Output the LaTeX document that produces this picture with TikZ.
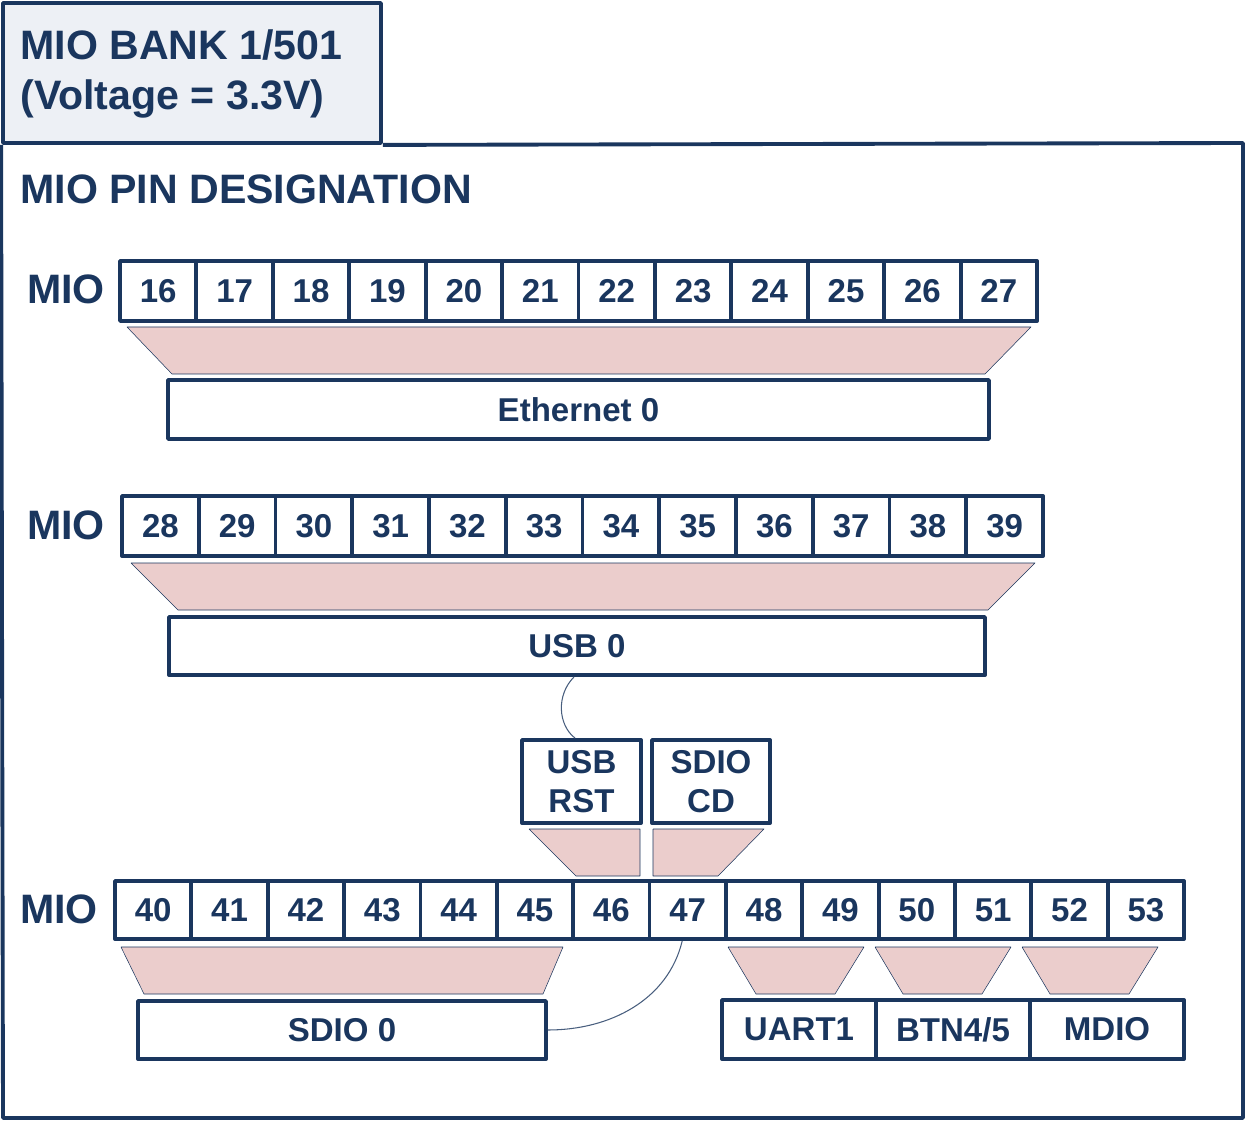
\documentclass[tikz,border=0pt]{standalone}
\usepackage{fontspec}
\setmainfont{Liberation Sans}
\definecolor{navy}{RGB}{26,54,94}
\definecolor{pale}{RGB}{237,240,245}
\definecolor{rose}{RGB}{235,205,204}
\tikzset{
  box/.style={draw=navy,line width=2.2pt,inner sep=0pt,text=navy,font=\fontsize{18.8}{22}\selectfont\bfseries,align=center},
  pin/.style={box,minimum width=#1,minimum height=1.2cm},
  funnel/.style={fill=rose,draw=navy,line width=.3pt},
  link/.style={draw=navy!80,line width=.6pt},
  big/.style={text=navy,inner sep=0pt,font=\fontsize{23.4}{28}\selectfont\bfseries}
}
\begin{document}
\begin{tikzpicture}[x=0.02cm,y=-0.02cm,line join=round]
\useasboundingbox (0,0) rectangle (1246,1121);
% frames
\node[box,fill=pale,minimum width=7.56cm,minimum height=2.8cm] (bank) at (192,73) {};
\draw[navy,line width=2.2pt] (bank.south east) -- (1243,143) -- (1243,1118) -- (3,1118) -- (bank.south west);
\node[big,anchor=west,align=left] (banktxt) at (20,74) {MIO BANK 1/501\\(Voltage = 3.3V)};
\node[big,anchor=west] (title) at (20,189) {MIO PIN DESIGNATION};
% pin rows
\node[big] (mioa) at (66,289) {MIO};
\node[big] (miob) at (66,525) {MIO};
\node[big] (mioc) at (59,909) {MIO};
\foreach \n in {16,...,27} \node[pin=1.528cm] (p\n) at ({120+76.42*(\n-15.5)},291) {\n};
\foreach \n in {28,...,39} \node[pin=1.535cm] (p\n) at ({122+76.75*(\n-27.5)},526) {\n};
\foreach \n in {40,...,53} \node[pin=1.527cm,minimum height=1.16cm] (p\n) at ({115+76.36*(\n-39.5)},910) {\n};
% funnels
\filldraw[funnel] (127,327) -- (1031,327) -- (985,374) -- (172,374) -- cycle;
\filldraw[funnel] (131,563) -- (1035,563) -- (988,610) -- (178,610) -- cycle;
\filldraw[funnel] (529,829) -- (640,829) -- (640,876) -- (576,876) -- cycle;
\filldraw[funnel] (653,829) -- (764,829) -- (718,876) -- (653,876) -- cycle;
\filldraw[funnel] (121,947) -- (563,947) -- (543,994) -- (144,994) -- cycle;
\foreach \x in {728,875,1022} \filldraw[funnel] (\x,947) -- (\x+136,947) -- (\x+107,994) -- (\x+28,994) -- cycle;
% interfaces
\node[box,minimum width=16.42cm,minimum height=1.18cm] (eth) at (578.5,409.5) {Ethernet 0};
\node[box,minimum width=16.32cm,minimum height=1.16cm] (usb) at (577,646) {USB 0};
\node[box,minimum width=2.38cm,minimum height=1.66cm] (usbrst) at (581.5,781.5) {USB\\RST};
\node[box,minimum width=2.36cm,minimum height=1.66cm] (sdiocd) at (711,781.5) {SDIO\\CD};
\node[box,minimum width=8.16cm,minimum height=1.16cm] (sdio) at (342,1030) {SDIO 0};
\node[box,minimum width=3.08cm,minimum height=1.18cm] (uart) at (799,1029.5) {UART1};
\node[box,minimum width=3.08cm,minimum height=1.18cm] (btn) at (953,1029.5) {BTN4/5};
\node[box,minimum width=3.08cm,minimum height=1.18cm] (mdio) at (1107,1029.5) {MDIO};
% links
\draw[link] ([xshift=-0.06cm]usb.south) .. controls (556,695) and (558,725) .. ([xshift=-0.13cm]usbrst.north);
\draw[link] ([xshift=-0.11cm]p47.south) .. controls (668,1000) and (610,1030) .. (sdio.east);
\end{tikzpicture}
\end{document}
